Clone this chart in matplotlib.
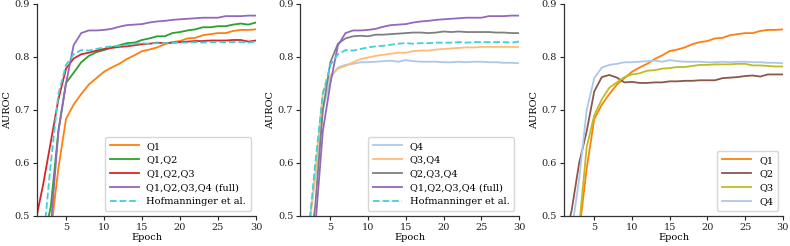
import matplotlib
matplotlib.use('Agg')
import matplotlib.pyplot as plt
import numpy as np

plt.rcParams['font.family'] = 'DejaVu Serif'
plt.rcParams['font.size'] = 7

epochs = np.arange(1, 31)

q1 = [0.30, 0.40, 0.47, 0.59, 0.683, 0.71, 0.73, 0.748, 0.76, 0.772, 0.78, 0.787, 0.796, 0.803, 0.811,
      0.814, 0.818, 0.824, 0.828, 0.830, 0.835, 0.836, 0.841, 0.843, 0.845, 0.845, 0.849, 0.851, 0.851, 0.852]
q12 = [0.35, 0.45, 0.518, 0.66, 0.751, 0.770, 0.790, 0.802, 0.809, 0.813, 0.818, 0.822, 0.826, 0.827, 0.832,
       0.835, 0.839, 0.839, 0.845, 0.847, 0.850, 0.852, 0.856, 0.856, 0.858, 0.858, 0.861, 0.863, 0.861, 0.865]
q123 = [0.49, 0.56, 0.64, 0.72, 0.778, 0.797, 0.805, 0.808, 0.812, 0.815, 0.817, 0.819, 0.820, 0.822, 0.824,
        0.825, 0.827, 0.826, 0.827, 0.828, 0.829, 0.830, 0.830, 0.831, 0.831, 0.831, 0.832, 0.832, 0.829, 0.831]
full = [0.30, 0.40, 0.48, 0.66, 0.750, 0.822, 0.845, 0.850, 0.850, 0.851, 0.853, 0.857, 0.860, 0.861, 0.862,
        0.865, 0.867, 0.868, 0.870, 0.871, 0.872, 0.873, 0.874, 0.874, 0.874, 0.877, 0.877, 0.877, 0.878, 0.878]
hof = [0.35, 0.45, 0.60, 0.73, 0.785, 0.805, 0.813, 0.812, 0.815, 0.818, 0.820, 0.821, 0.823, 0.825, 0.826,
       0.825, 0.826, 0.826, 0.827, 0.827, 0.827, 0.828, 0.827, 0.828, 0.828, 0.828, 0.828, 0.828, 0.827, 0.829]
q4 = [0.35, 0.47, 0.57, 0.70, 0.760, 0.780, 0.785, 0.787, 0.790, 0.790, 0.791, 0.792, 0.793, 0.791, 0.794,
      0.792, 0.791, 0.791, 0.791, 0.790, 0.790, 0.791, 0.790, 0.791, 0.791, 0.790, 0.790, 0.789, 0.789, 0.788]
q34 = [0.35, 0.45, 0.58, 0.735, 0.765, 0.778, 0.783, 0.790, 0.796, 0.799, 0.802, 0.804, 0.806, 0.808, 0.808,
       0.811, 0.812, 0.812, 0.814, 0.815, 0.816, 0.817, 0.818, 0.818, 0.819, 0.819, 0.819, 0.819, 0.819, 0.819]
q234 = [0.30, 0.40, 0.52, 0.70, 0.790, 0.825, 0.835, 0.839, 0.840, 0.839, 0.842, 0.842, 0.843, 0.844, 0.845,
        0.846, 0.846, 0.845, 0.846, 0.848, 0.847, 0.848, 0.847, 0.847, 0.847, 0.847, 0.846, 0.846, 0.845, 0.845]
q2 = [0.45, 0.51, 0.60, 0.66, 0.735, 0.762, 0.766, 0.761, 0.752, 0.753, 0.751, 0.751, 0.752, 0.752, 0.754,
      0.754, 0.755, 0.755, 0.756, 0.756, 0.756, 0.760, 0.761, 0.762, 0.764, 0.765, 0.763, 0.767, 0.767, 0.767]
q3 = [0.30, 0.40, 0.48, 0.63, 0.690, 0.720, 0.742, 0.752, 0.762, 0.767, 0.769, 0.774, 0.775, 0.778, 0.779,
      0.781, 0.781, 0.783, 0.785, 0.785, 0.786, 0.786, 0.786, 0.787, 0.787, 0.784, 0.784, 0.783, 0.782, 0.782]

C_Q1 = '#ff7f0e'
C_Q12 = '#2ca02c'
C_Q123 = '#d62728'
C_FULL = '#9467bd'
C_HOF = '#3fd0d8'
C_Q4 = '#aec7e8'
C_Q34 = '#ffbb78'
C_Q234 = '#7f7f7f'
C_Q2 = '#8c564b'
C_Q3 = '#bcbd22'

panels = [
    [(q1, 'Q1', C_Q1, '-'), (q12, 'Q1,Q2', C_Q12, '-'), (q123, 'Q1,Q2,Q3', C_Q123, '-'),
     (full, 'Q1,Q2,Q3,Q4 (full)', C_FULL, '-'), (hof, 'Hofmanninger et al.', C_HOF, '--')],
    [(q4, 'Q4', C_Q4, '-'), (q34, 'Q3,Q4', C_Q34, '-'), (q234, 'Q2,Q3,Q4', C_Q234, '-'),
     (full, 'Q1,Q2,Q3,Q4 (full)', C_FULL, '-'), (hof, 'Hofmanninger et al.', C_HOF, '--')],
    [(q1, 'Q1', C_Q1, '-'), (q2, 'Q2', C_Q2, '-'), (q3, 'Q3', C_Q3, '-'), (q4, 'Q4', C_Q4, '-')],
]
lefts = [0.047, 0.380, 0.714]
xmins = [1.2, 1.0, 1.0]

fig = plt.figure(figsize=(7.9, 2.46), dpi=100)
for series, left, xmin in zip(panels, lefts, xmins):
    ax = fig.add_axes([left, 0.122, 0.277, 0.862])
    for vals, label, color, ls in series:
        ax.plot(epochs, vals, color=color, ls=ls, lw=1.3, label=label)
    ax.set_xlim(xmin, 30)
    ax.set_ylim(0.5, 0.9)
    ax.set_xticks([5, 10, 15, 20, 25, 30])
    ax.set_yticks([0.5, 0.6, 0.7, 0.8, 0.9])
    ax.set_xlabel('Epoch', labelpad=1)
    ax.set_ylabel('AUROC', labelpad=2)
    for s in ['top', 'right']:
        ax.spines[s].set_visible(False)
    for s in ['left', 'bottom']:
        ax.spines[s].set_color('#333333')
        ax.spines[s].set_linewidth(0.9)
    ax.tick_params(length=3, width=0.8, pad=2, colors='#222222')
    ax.legend(loc='lower right', fontsize=7, frameon=True, edgecolor='#cccccc',
              handlelength=3.0, borderpad=0.5, labelspacing=0.5)

plt.savefig('out.png', dpi=100)
